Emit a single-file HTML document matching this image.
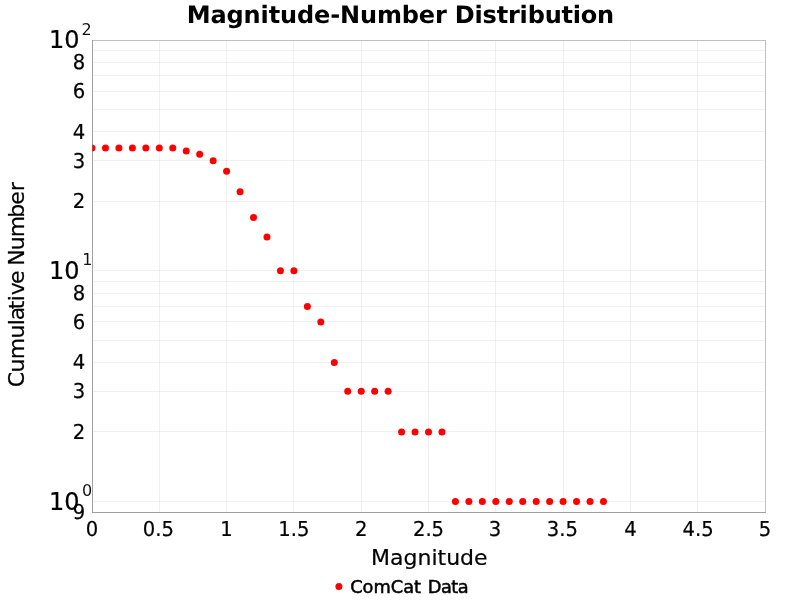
<!DOCTYPE html>
<html><head><meta charset="utf-8"><title>Magnitude-Number Distribution</title>
<style>
html,body{margin:0;padding:0;background:#fff;}
body{width:800px;height:600px;overflow:hidden;}
svg{display:block;}
text{font-family:"DejaVu Sans","Liberation Sans",sans-serif;fill:#000;stroke:#000;stroke-width:0.2px;}
.t{font-size:20px;text-rendering:geometricPrecision;}
.b{font-size:24px;}
.s{font-size:16px;fill:#111;stroke:none;}
</style></head><body>
<svg width="800" height="600" viewBox="0 0 800 600">
<rect width="800" height="600" fill="#fff"/>
<defs><clipPath id="c"><rect x="92" y="40" width="673" height="472"/></clipPath></defs>

<g stroke="#000" stroke-opacity="0.06" stroke-width="1">
<line x1="159.5" y1="41" x2="159.5" y2="512"/>
<line x1="226.5" y1="41" x2="226.5" y2="512"/>
<line x1="293.5" y1="41" x2="293.5" y2="512"/>
<line x1="361.5" y1="41" x2="361.5" y2="512"/>
<line x1="428.5" y1="41" x2="428.5" y2="512"/>
<line x1="495.5" y1="41" x2="495.5" y2="512"/>
<line x1="563.5" y1="41" x2="563.5" y2="512"/>
<line x1="630.5" y1="41" x2="630.5" y2="512"/>
<line x1="697.5" y1="41" x2="697.5" y2="512"/>
<line x1="93.5" y1="501.5" x2="764.5" y2="501.5"/>
<line x1="93.5" y1="431.5" x2="764.5" y2="431.5"/>
<line x1="93.5" y1="391.5" x2="764.5" y2="391.5"/>
<line x1="93.5" y1="362.5" x2="764.5" y2="362.5"/>
<line x1="93.5" y1="340.5" x2="764.5" y2="340.5"/>
<line x1="93.5" y1="321.5" x2="764.5" y2="321.5"/>
<line x1="93.5" y1="306.5" x2="764.5" y2="306.5"/>
<line x1="93.5" y1="293.5" x2="764.5" y2="293.5"/>
<line x1="93.5" y1="281.5" x2="764.5" y2="281.5"/>
<line x1="93.5" y1="270.5" x2="764.5" y2="270.5"/>
<line x1="93.5" y1="201.5" x2="764.5" y2="201.5"/>
<line x1="93.5" y1="160.5" x2="764.5" y2="160.5"/>
<line x1="93.5" y1="131.5" x2="764.5" y2="131.5"/>
<line x1="93.5" y1="109.5" x2="764.5" y2="109.5"/>
<line x1="93.5" y1="91.5" x2="764.5" y2="91.5"/>
<line x1="93.5" y1="75.5" x2="764.5" y2="75.5"/>
<line x1="93.5" y1="62.5" x2="764.5" y2="62.5"/>
<line x1="93.5" y1="50.5" x2="764.5" y2="50.5"/>
</g>
<rect x="92.5" y="40.5" width="673.0" height="472.0" fill="none" stroke="#c0c0c0" stroke-width="1"/>
<g fill="#ff0000" clip-path="url(#c)">
<circle cx="92.00" cy="148.10" r="3.5"/>
<circle cx="105.46" cy="148.10" r="3.5"/>
<circle cx="118.92" cy="148.10" r="3.5"/>
<circle cx="132.38" cy="148.10" r="3.5"/>
<circle cx="145.84" cy="148.10" r="3.5"/>
<circle cx="159.30" cy="148.10" r="3.5"/>
<circle cx="172.76" cy="148.10" r="3.5"/>
<circle cx="186.22" cy="151.09" r="3.5"/>
<circle cx="199.68" cy="154.17" r="3.5"/>
<circle cx="213.14" cy="160.64" r="3.5"/>
<circle cx="226.60" cy="171.20" r="3.5"/>
<circle cx="240.06" cy="191.72" r="3.5"/>
<circle cx="253.52" cy="217.55" r="3.5"/>
<circle cx="266.98" cy="237.01" r="3.5"/>
<circle cx="280.44" cy="270.72" r="3.5"/>
<circle cx="293.90" cy="270.72" r="3.5"/>
<circle cx="307.36" cy="306.46" r="3.5"/>
<circle cx="320.82" cy="321.91" r="3.5"/>
<circle cx="334.28" cy="362.53" r="3.5"/>
<circle cx="347.74" cy="391.36" r="3.5"/>
<circle cx="361.20" cy="391.36" r="3.5"/>
<circle cx="374.66" cy="391.36" r="3.5"/>
<circle cx="388.12" cy="391.36" r="3.5"/>
<circle cx="401.58" cy="431.99" r="3.5"/>
<circle cx="415.04" cy="431.99" r="3.5"/>
<circle cx="428.50" cy="431.99" r="3.5"/>
<circle cx="441.96" cy="431.99" r="3.5"/>
<circle cx="455.42" cy="501.44" r="3.5"/>
<circle cx="468.88" cy="501.44" r="3.5"/>
<circle cx="482.34" cy="501.44" r="3.5"/>
<circle cx="495.80" cy="501.44" r="3.5"/>
<circle cx="509.26" cy="501.44" r="3.5"/>
<circle cx="522.72" cy="501.44" r="3.5"/>
<circle cx="536.18" cy="501.44" r="3.5"/>
<circle cx="549.64" cy="501.44" r="3.5"/>
<circle cx="563.10" cy="501.44" r="3.5"/>
<circle cx="576.56" cy="501.44" r="3.5"/>
<circle cx="590.02" cy="501.44" r="3.5"/>
<circle cx="603.48" cy="501.44" r="3.5"/>
</g>
<path d="M92.5 40.0V512.5M92.0 512.5H766.0" fill="none" stroke="#808080" stroke-opacity="0.5" stroke-width="1"/>
<text x="186.65" y="23" font-size="24" font-weight="bold" style="stroke:none;text-rendering:geometricPrecision"><tspan letter-spacing="-0.11">Magnitude-</tspan><tspan letter-spacing="-0.155">Number </tspan><tspan letter-spacing="-0.195">Distribution</tspan></text>
<text class="t" transform="translate(92.00,536) scale(0.98,1.029)" text-anchor="middle">0</text>
<text class="t" transform="translate(158.45,536) scale(0.98,1.029)" text-anchor="middle">0.5</text>
<text class="t" transform="translate(226.60,536) scale(0.98,1.029)" text-anchor="middle">1</text>
<text class="t" transform="translate(293.90,536) scale(0.98,1.029)" text-anchor="middle">1.5</text>
<text class="t" transform="translate(361.20,536) scale(0.98,1.029)" text-anchor="middle">2</text>
<text class="t" transform="translate(428.50,536) scale(0.98,1.029)" text-anchor="middle">2.5</text>
<text class="t" transform="translate(494.90,536) scale(0.98,1.029)" text-anchor="middle">3</text>
<text class="t" transform="translate(562.30,536) scale(0.98,1.029)" text-anchor="middle">3.5</text>
<text class="t" transform="translate(630.40,536) scale(0.98,1.029)" text-anchor="middle">4</text>
<text class="t" transform="translate(698.20,536) scale(0.98,1.029)" text-anchor="middle">4.5</text>
<text class="t" transform="translate(765.00,536) scale(0.98,1.029)" text-anchor="middle">5</text>
<text x="429.3" y="564.7" text-anchor="middle" font-size="22">Magnitude</text>
<text class="t" transform="translate(85.2,69.3) scale(0.98,1.029)" text-anchor="end">8</text>
<text class="t" transform="translate(85.2,98.3) scale(0.98,1.029)" text-anchor="end">6</text>
<text class="t" transform="translate(85.2,139.3) scale(0.98,1.029)" text-anchor="end">4</text>
<text class="t" transform="translate(85.2,168.3) scale(0.98,1.029)" text-anchor="end">3</text>
<text class="t" transform="translate(85.2,208.3) scale(0.98,1.029)" text-anchor="end">2</text>
<text class="t" transform="translate(85.2,300.3) scale(0.98,1.029)" text-anchor="end">8</text>
<text class="t" transform="translate(85.2,329.3) scale(0.98,1.029)" text-anchor="end">6</text>
<text class="t" transform="translate(85.2,369.3) scale(0.98,1.029)" text-anchor="end">4</text>
<text class="t" transform="translate(85.2,398.3) scale(0.98,1.029)" text-anchor="end">3</text>
<text class="t" transform="translate(85.2,439.3) scale(0.98,1.029)" text-anchor="end">2</text>
<text class="t" transform="translate(85.2,519.3) scale(0.98,1.029)" text-anchor="end">9</text>
<text class="b" x="79.6" y="47.6" text-anchor="end">10</text>
<text class="s" x="81.6" y="35">2</text>
<text class="b" x="79.6" y="278.6" text-anchor="end">10</text>
<text class="s" x="82.2" y="265">1</text>
<text class="b" x="79.6" y="509.6" text-anchor="end">10</text>
<text class="s" x="81.9" y="496">0</text>
<text font-size="22" transform="translate(24,387.3) rotate(-90)"><tspan letter-spacing="-0.67">Cumul<tspan dx="-0.5">a</tspan><tspan dx="-1.7">t</tspan>i<tspan dx="0.5">v</tspan><tspan dx="-1">e</tspan> </tspan><tspan x="121.5" letter-spacing="-0.96">Num<tspan dx="-1">b</tspan>e<tspan dx="1">r</tspan></tspan></text>
<circle cx="338.9" cy="586.5" r="3.5" fill="#ff0000"/>
<text x="350.2" y="593" font-size="17.8" style="stroke-width:0.5px">ComCat <tspan dx="1" letter-spacing="-0.5">Data</tspan></text>
</svg></body></html>
